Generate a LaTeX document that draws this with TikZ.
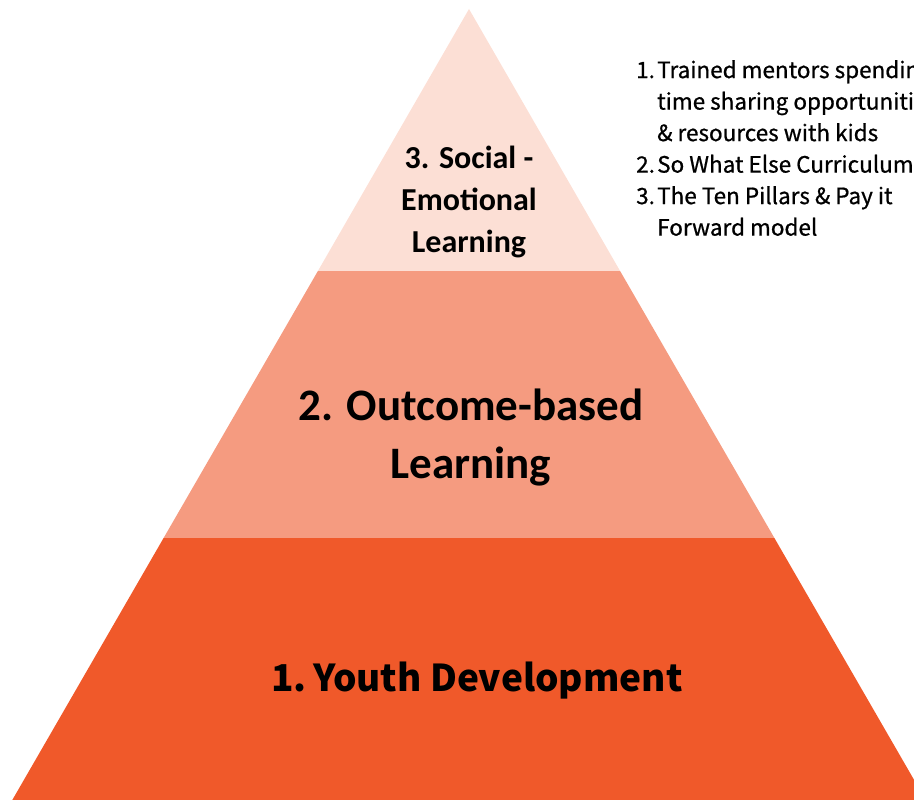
\documentclass[tikz,border=0pt]{standalone}
\usepackage{fontspec}
\setmainfont{Carlito}
\newfontfamily\krfont{Noto Sans CJK KR}
\newfontfamily\krmedium[FakeBold=0.8]{Noto Sans CJK KR}
\definecolor{tiertop}{HTML}{FCDFD5}
\definecolor{tiermid}{HTML}{F59B80}
\definecolor{tierbot}{HTML}{F0592A}
\begin{document}
\begin{tikzpicture}[x=1pt,y=-1pt,
  tiertext/.style={align=center,text=black,inner sep=0pt},
  listtext/.style={align=left,text=black,inner sep=0pt,anchor=north west}]
\useasboundingbox (0,0) rectangle (914,800);
\clip (0,0) rectangle (914,800);
% pyramid tiers (apex 469,9; half width grows 0.5772 per px)
\coordinate (apex) at (469,9);
\fill[tiertop] (apex) -- (620.1,271) -- (317.9,271) -- cycle;
\fill[tiermid] (317.9,271) -- (620.1,271) -- (774.4,538) -- (163.6,538) -- cycle;
\fill[tierbot] (163.6,538) -- (774.4,538) -- (925.7,800) -- (12.3,800) -- cycle;
% tier labels
\node[tiertext,font=\fontsize{32}{42}\selectfont\bfseries] (t3) at (469,202)
  {3. Social -\\Emotional\\Learning};
\node[tiertext,font=\fontsize{45}{58}\selectfont\bfseries] (t2) at (471,438)
  {2. Outcome-based\\Learning};
\node[tiertext,font=\fontsize{37}{46}\selectfont\krfont\bfseries] (t1) at (477,681)
  {1.\,Youth Development};
% list
\node[listtext,font=\fontsize{22.5}{31.5}\selectfont\krmedium] (lst) at (636,60)
  {\makebox[21pt][l]{1.}Trained mentors spending\\
   \hspace*{21pt}time sharing opportunities\\
   \hspace*{21pt}\& resources with kids\\
   \makebox[21pt][l]{2.}So What Else Curriculum\\
   \makebox[21pt][l]{3.}The Ten Pillars \& Pay it\\
   \hspace*{21pt}Forward model};
\end{tikzpicture}
\end{document}
